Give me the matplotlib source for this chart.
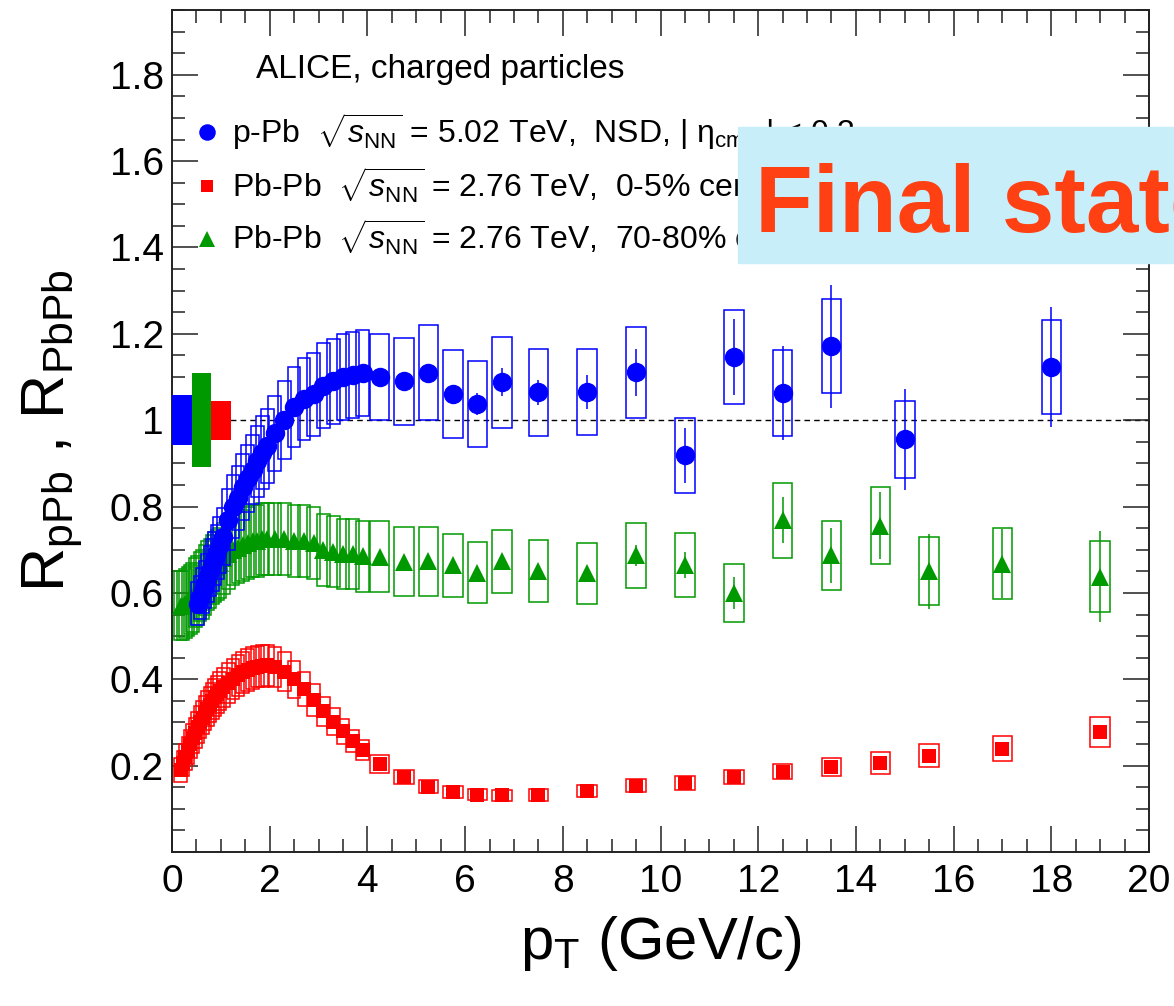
import matplotlib
matplotlib.use("Agg")
import matplotlib.pyplot as plt
from matplotlib.patches import Rectangle
from matplotlib.ticker import MultipleLocator

# ---- data: p-Pb 5.02 TeV, NSD ----
ppb_pt = [0.525, 0.575, 0.625, 0.675, 0.725, 0.775, 0.825, 0.875, 0.925, 0.975,
          1.05, 1.15, 1.25, 1.35, 1.45, 1.55, 1.65, 1.75, 1.85, 1.95,
          2.1, 2.3, 2.5, 2.7, 2.9, 3.1, 3.3, 3.5, 3.7, 3.9,
          4.25, 4.75, 5.25, 5.75, 6.25, 6.75, 7.5, 8.5, 9.5, 10.5, 11.5, 12.5, 13.5, 15, 18]
ppb_r = [0.575, 0.59, 0.605, 0.62, 0.635, 0.65, 0.665, 0.68, 0.695, 0.71,
         0.73, 0.77, 0.80, 0.82, 0.845, 0.865, 0.885, 0.905, 0.925, 0.94,
         0.97, 1.00, 1.03, 1.05, 1.06, 1.08, 1.09, 1.10, 1.105, 1.11,
         1.10, 1.09, 1.11, 1.06, 1.037, 1.088, 1.065, 1.065, 1.111, 0.919, 1.146, 1.063, 1.171, 0.956, 1.123]
ppb_stat = [0.003, 0.003, 0.003, 0.003, 0.003, 0.003, 0.003, 0.003, 0.003, 0.003,
            0.003, 0.003, 0.003, 0.003, 0.003, 0.003, 0.003, 0.003, 0.003, 0.003,
            0.004, 0.004, 0.004, 0.004, 0.004, 0.005, 0.005, 0.005, 0.006, 0.006,
            0.008, 0.010, 0.012, 0.016, 0.026, 0.032, 0.029, 0.040, 0.055, 0.064, 0.088, 0.109, 0.142, 0.117, 0.139]
ppb_syst = [0.050, 0.050, 0.052, 0.054, 0.056, 0.058, 0.060, 0.062, 0.063, 0.065,
            0.066, 0.070, 0.072, 0.074, 0.076, 0.078, 0.080, 0.082, 0.084, 0.085,
            0.087, 0.090, 0.093, 0.095, 0.096, 0.098, 0.099, 0.100, 0.100, 0.100,
            0.100, 0.100, 0.110, 0.102, 0.100, 0.105, 0.101, 0.100, 0.105, 0.087, 0.109, 0.100, 0.109, 0.089, 0.108]

# ---- data: Pb-Pb 2.76 TeV ----
pbpb_pt = [0.175, 0.225, 0.275, 0.325, 0.375, 0.425, 0.475, 0.525, 0.575, 0.625,
           0.675, 0.725, 0.775, 0.825, 0.875, 0.925, 0.975,
           1.05, 1.15, 1.25, 1.35, 1.45, 1.55, 1.65, 1.75, 1.85, 1.95,
           2.1, 2.3, 2.5, 2.7, 2.9, 3.1, 3.3, 3.5, 3.7, 3.9,
           4.25, 4.75, 5.25, 5.75, 6.25, 6.75, 7.5, 8.5, 9.5, 10.5, 11.5, 12.5, 13.5, 14.5, 15.5, 17, 19]
# 0-5% central
cen_r = [0.190, 0.205, 0.220, 0.235, 0.250, 0.263, 0.276, 0.289, 0.300, 0.311,
         0.322, 0.332, 0.341, 0.350, 0.358, 0.365, 0.372,
         0.381, 0.392, 0.401, 0.409, 0.416, 0.421, 0.426, 0.429, 0.431, 0.432,
         0.428, 0.418, 0.400, 0.378, 0.352, 0.326, 0.302, 0.280, 0.257, 0.236,
         0.204, 0.174, 0.151, 0.139, 0.133, 0.131, 0.132, 0.142, 0.153, 0.160, 0.174, 0.186, 0.197, 0.206, 0.223, 0.239, 0.278]
cen_stat = [0.001, 0.001, 0.001, 0.001, 0.001, 0.001, 0.001, 0.001, 0.001, 0.001,
            0.001, 0.001, 0.001, 0.001, 0.001, 0.001, 0.001,
            0.001, 0.001, 0.001, 0.001, 0.001, 0.001, 0.001, 0.001, 0.001, 0.001,
            0.001, 0.001, 0.001, 0.001, 0.001, 0.001, 0.001, 0.001, 0.001, 0.001,
            0.001, 0.001, 0.001, 0.001, 0.001, 0.002, 0.002, 0.002, 0.003, 0.003, 0.004, 0.005, 0.006, 0.006, 0.007, 0.008, 0.010]
cen_syst = [0.028, 0.030, 0.031, 0.032, 0.033, 0.034, 0.035, 0.036, 0.037, 0.038,
            0.039, 0.040, 0.041, 0.042, 0.042, 0.043, 0.044,
            0.045, 0.046, 0.047, 0.047, 0.048, 0.048, 0.048, 0.048, 0.048, 0.048,
            0.047, 0.045, 0.043, 0.040, 0.037, 0.034, 0.031, 0.029, 0.026, 0.024,
            0.020, 0.017, 0.015, 0.014, 0.013, 0.013, 0.013, 0.014, 0.015, 0.016, 0.017, 0.018, 0.020, 0.025, 0.027, 0.029, 0.035]
# 70-80% peripheral
per_r = [0.570, 0.570, 0.575, 0.580, 0.585, 0.590, 0.600, 0.605, 0.615, 0.620,
         0.630, 0.640, 0.645, 0.655, 0.660, 0.665, 0.670,
         0.680, 0.690, 0.700, 0.705, 0.710, 0.715, 0.720, 0.720, 0.725, 0.725,
         0.725, 0.725, 0.720, 0.720, 0.715, 0.700, 0.695, 0.690, 0.690, 0.685,
         0.684, 0.672, 0.673, 0.664, 0.647, 0.673, 0.650, 0.645, 0.687, 0.664, 0.600, 0.768, 0.687, 0.756, 0.650, 0.668, 0.638]
per_stat = [0.002, 0.002, 0.002, 0.002, 0.002, 0.002, 0.002, 0.002, 0.002, 0.002,
            0.002, 0.002, 0.002, 0.002, 0.002, 0.002, 0.002,
            0.002, 0.002, 0.002, 0.002, 0.002, 0.002, 0.002, 0.003, 0.003, 0.003,
            0.003, 0.003, 0.004, 0.004, 0.004, 0.005, 0.005, 0.006, 0.006, 0.007,
            0.008, 0.009, 0.010, 0.010, 0.010, 0.010, 0.010, 0.012, 0.025, 0.030, 0.038, 0.053, 0.063, 0.077, 0.087, 0.080, 0.105]
per_syst = [0.080, 0.080, 0.080, 0.080, 0.080, 0.080, 0.080, 0.080, 0.080, 0.080,
            0.080, 0.080, 0.080, 0.080, 0.081, 0.081, 0.081,
            0.082, 0.082, 0.082, 0.083, 0.083, 0.083, 0.083, 0.083, 0.083, 0.083,
            0.083, 0.083, 0.083, 0.083, 0.083, 0.083, 0.082, 0.082, 0.082, 0.082,
            0.082, 0.080, 0.080, 0.073, 0.070, 0.073, 0.072, 0.070, 0.075, 0.074, 0.068, 0.087, 0.080, 0.090, 0.079, 0.083, 0.083]

# normalisation uncertainties around unity: p-Pb, Pb-Pb 70-80%, Pb-Pb 0-5%
norm_unc = [0.058, 0.109, 0.045]

BLUE = "#0000FF"
RED = "#FF0000"
GREEN = "#009900"

plt.rcParams["font.family"] = ["Liberation Sans", "DejaVu Sans"]
plt.rcParams["mathtext.fontset"] = "custom"
plt.rcParams["mathtext.rm"] = "Liberation Sans"
plt.rcParams["mathtext.it"] = "Liberation Sans:italic"
plt.rcParams["mathtext.bf"] = "Liberation Sans:bold"

fig = plt.figure(figsize=(11.74, 10.06), dpi=100)
ax = fig.add_axes([172 / 1174, 1 - 852 / 1006, (1149 - 172) / 1174, (852 - 10) / 1006])


def box_width(pts):
    return [0.26 if p < 4 else 0.4 for p in pts]


def draw_series(pt, r, stat, syst, color, marker, ms, z):
    bottoms = [v - s for v, s in zip(r, syst)]
    heights = [2 * s for s in syst]
    ax.bar(pt, heights, bottom=bottoms, width=box_width(pt), fill=False,
           edgecolor=color, linewidth=1.1, zorder=z)
    eb = ax.errorbar(pt, r, yerr=stat, fmt=marker, color=color, ms=ms, mew=0,
                     elinewidth=1.1, capsize=3, capthick=1.1, zorder=z + 0.5)
    return eb


eb_per = draw_series(pbpb_pt, per_r, per_stat, per_syst, GREEN, "^", 13, 2)
eb_cen = draw_series(pbpb_pt, cen_r, cen_stat, cen_syst, RED, "s", 10, 3)
eb_ppb = draw_series(ppb_pt, ppb_r, ppb_stat, ppb_syst, BLUE, "o", 14, 4)

# normalisation boxes at unity
ax.bar([0.2, 0.6, 1.0], [2 * u for u in norm_unc], bottom=[1 - u for u in norm_unc],
       width=0.4, color=[BLUE, GREEN, RED], linewidth=0, zorder=5)

ax.axhline(1.0, color="black", lw=1.0, ls=(0, (4, 3)), zorder=1)

ax.set_xlim(0, 20)
ax.set_ylim(0, 1.95)
ax.xaxis.set_major_locator(MultipleLocator(2))
ax.xaxis.set_minor_locator(MultipleLocator(0.5))
ax.yaxis.set_major_locator(MultipleLocator(0.2))
ax.yaxis.set_minor_locator(MultipleLocator(0.05))
ax.yaxis.set_major_formatter(plt.FuncFormatter(lambda v, p: "" if abs(v) < 1e-9 else "%g" % round(v, 2)))
ax.tick_params(which="both", direction="in", top=True, right=True, width=1.1,
               color="#222222")
ax.tick_params(which="major", length=18.5, labelsize=28)
ax.tick_params(which="minor", length=9.5)
ax.tick_params(axis="x", pad=9)
ax.tick_params(axis="y", pad=6)
for sp in ax.spines.values():
    sp.set_linewidth(1.4)
    sp.set_color("#222222")

ax.set_xlabel(r"p$_{\mathrm{T}}$ (GeV/c)", fontsize=43, labelpad=10)
ax.set_ylabel(r"R$_{\mathrm{pPb}}$ , R$_{\mathrm{PbPb}}$", fontsize=44, labelpad=18)

ax.text(1.72, 1.793, "ALICE, charged particles", fontsize=24, va="baseline")
labels = [r"p-Pb  $\sqrt{s_{\mathrm{NN}}}$ = 5.02 TeV,  NSD, | $\mathrm{\eta_{cms}}$ | < 0.3",
          r"Pb-Pb  $\sqrt{s_{\mathrm{NN}}}$ = 2.76 TeV,  0-5% central",
          r"Pb-Pb  $\sqrt{s_{\mathrm{NN}}}$ = 2.76 TeV,  70-80% central"]
ax.legend([eb_ppb[0], eb_cen[0], eb_per[0]], labels, loc="upper left",
          bbox_to_anchor=(0.019, 0.88), frameon=False, fontsize=23,
          handlelength=1.0, handletextpad=0.3, labelspacing=0.42,
          borderpad=0, borderaxespad=0, markerscale=0.85)

# overlay banner
fig.patches.append(Rectangle((738 / 1174, 1 - 263 / 1006), 1.0, (263 - 127) / 1006,
                             transform=fig.transFigure, color="#C8EEFA", zorder=10))
fig.text(755 / 1174, 1 - 232 / 1006, "Final state", fontsize=68, fontweight="bold",
         color="#FF4013", va="baseline", zorder=11)

fig.savefig("out.png", dpi=100)
